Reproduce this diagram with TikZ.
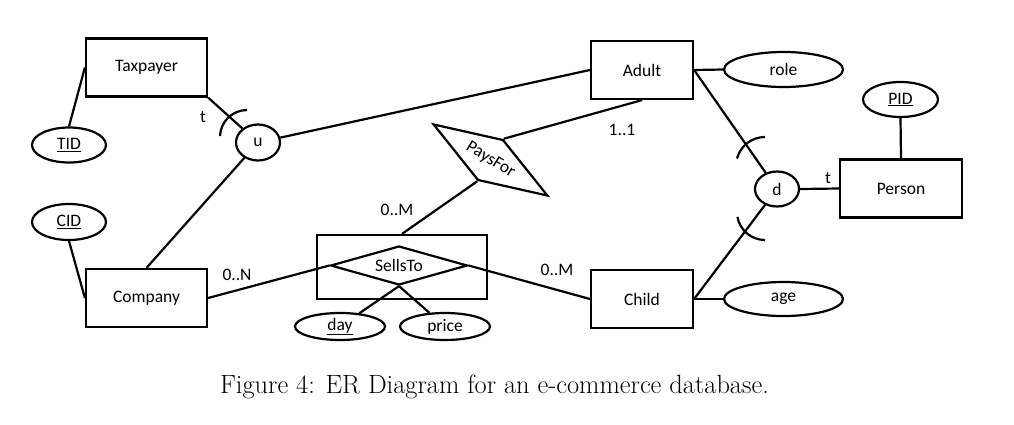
\documentclass[tikz,border=0pt]{standalone}
\usepackage{fontspec}
\setsansfont{Carlito}
\usetikzlibrary{shapes.geometric}
\tikzset{
  every node/.style={font=\sffamily\fontsize{17.5}{20}\selectfont, inner sep=0pt},
  ln/.style={line width=2.2pt},
  ent/.style={draw, ln, rectangle, minimum width=#1, minimum height=58},
  att/.style={draw, ln, ellipse},
  rel/.style={draw, ln, diamond},
  lbl/.style={}
}
\begin{document}
\begin{tikzpicture}[x=1pt,y=-1pt]
\useasboundingbox (0,0) rectangle (1014,424);
% entities
\node[ent=121] (tax) at (146.5,67.5) {Taxpayer};
\node[ent=121] (comp) at (146.5,298) {Company};
\node[ent=102] (adult) at (642,70) {Adult};
\node[ent=102] (child) at (642,299) {Child};
\node[ent=122] (person) at (901,188.5) {Person};
% attributes
\node[att, minimum width=74, minimum height=35] (tid) at (69,145) {\underline{TID}};
\node[att, minimum width=74, minimum height=36] (cid) at (69,222) {\underline{CID}};
\node[att, minimum width=119, minimum height=35] (role) at (783.5,69.5) {role};
\node[att, minimum width=119, minimum height=34] (age) at (783.5,299) {age};
\node[att, minimum width=75, minimum height=35] (pid) at (900.5,99.5) {\underline{PID}};
\node[att, minimum width=90, minimum height=27] (day) at (340,326.5) {\underline{day}};
\node[att, minimum width=90, minimum height=27] (price) at (445,326.5) {price};
% union / disjoint circles
\node[att, minimum width=44, minimum height=36] (u) at (258,142.5) {u};
\node[att, minimum width=44, minimum height=35] (d) at (777,189) {d};
% aggregation box and relationships
\node[draw, ln, rectangle, minimum width=170, minimum height=64] (agg) at (402,267) {};
\node[rel, minimum width=137, minimum height=39, shape aspect=3.5] (sells) at (399,265.5) {SellsTo};
\node[rel, minimum width=135, minimum height=48, shape aspect=2.8, rotate=-32] (pays) at (490.5,160) {PaysFor};
% connectors
\draw[ln] (tid.north) -- (tax.west);
\draw[ln] (cid.south) -- (comp.west);
\draw[ln] (tax.south east) -- (u);
\draw[ln] (u) -- (adult.west);
\draw[ln] (u) -- (comp.north);
\draw[ln] (comp.east) -- (sells.west);
\draw[ln] (sells.east) -- (child.west);
\draw[ln] (sells.south) -- (day);
\draw[ln] (sells.south) -- (price);
\draw[ln] (pays.north) -- (adult.south);
\draw[ln] (pays.south) -- (agg.north);
\draw[ln] (adult.east) -- (role.west);
\draw[ln] (adult.east) -- (d);
\draw[ln] (child.east) -- (age.west);
\draw[ln] (child.east) -- (d);
\draw[ln] (d.east) -- (person.west);
\draw[ln] (pid.south) -- (person.north);
% subset arcs
\draw[ln] (247,110) arc[start angle=90, end angle=178, radius=27pt];
\draw[ln] (765,137) arc[start angle=90, end angle=165, radius=29pt];
\draw[ln] (765,240) arc[start angle=270, end angle=190, radius=28pt];
% labels
\node[lbl] (t1) at (203,117) {t};
\node[lbl] (t2) at (828,178) {t};
\node[lbl] (c11) at (622,130) {1..1};
\node[lbl] (c0m1) at (397,210) {0..M};
\node[lbl] (c0n) at (237,275) {0..N};
\node[lbl] (c0m2) at (557,270) {0..M};
% caption
\node[font=\rmfamily\fontsize{26.4}{30}\selectfont] (cap) at (494.5,387) {Figure 4: ER Diagram for an e-commerce database.};
\end{tikzpicture}
\end{document}
